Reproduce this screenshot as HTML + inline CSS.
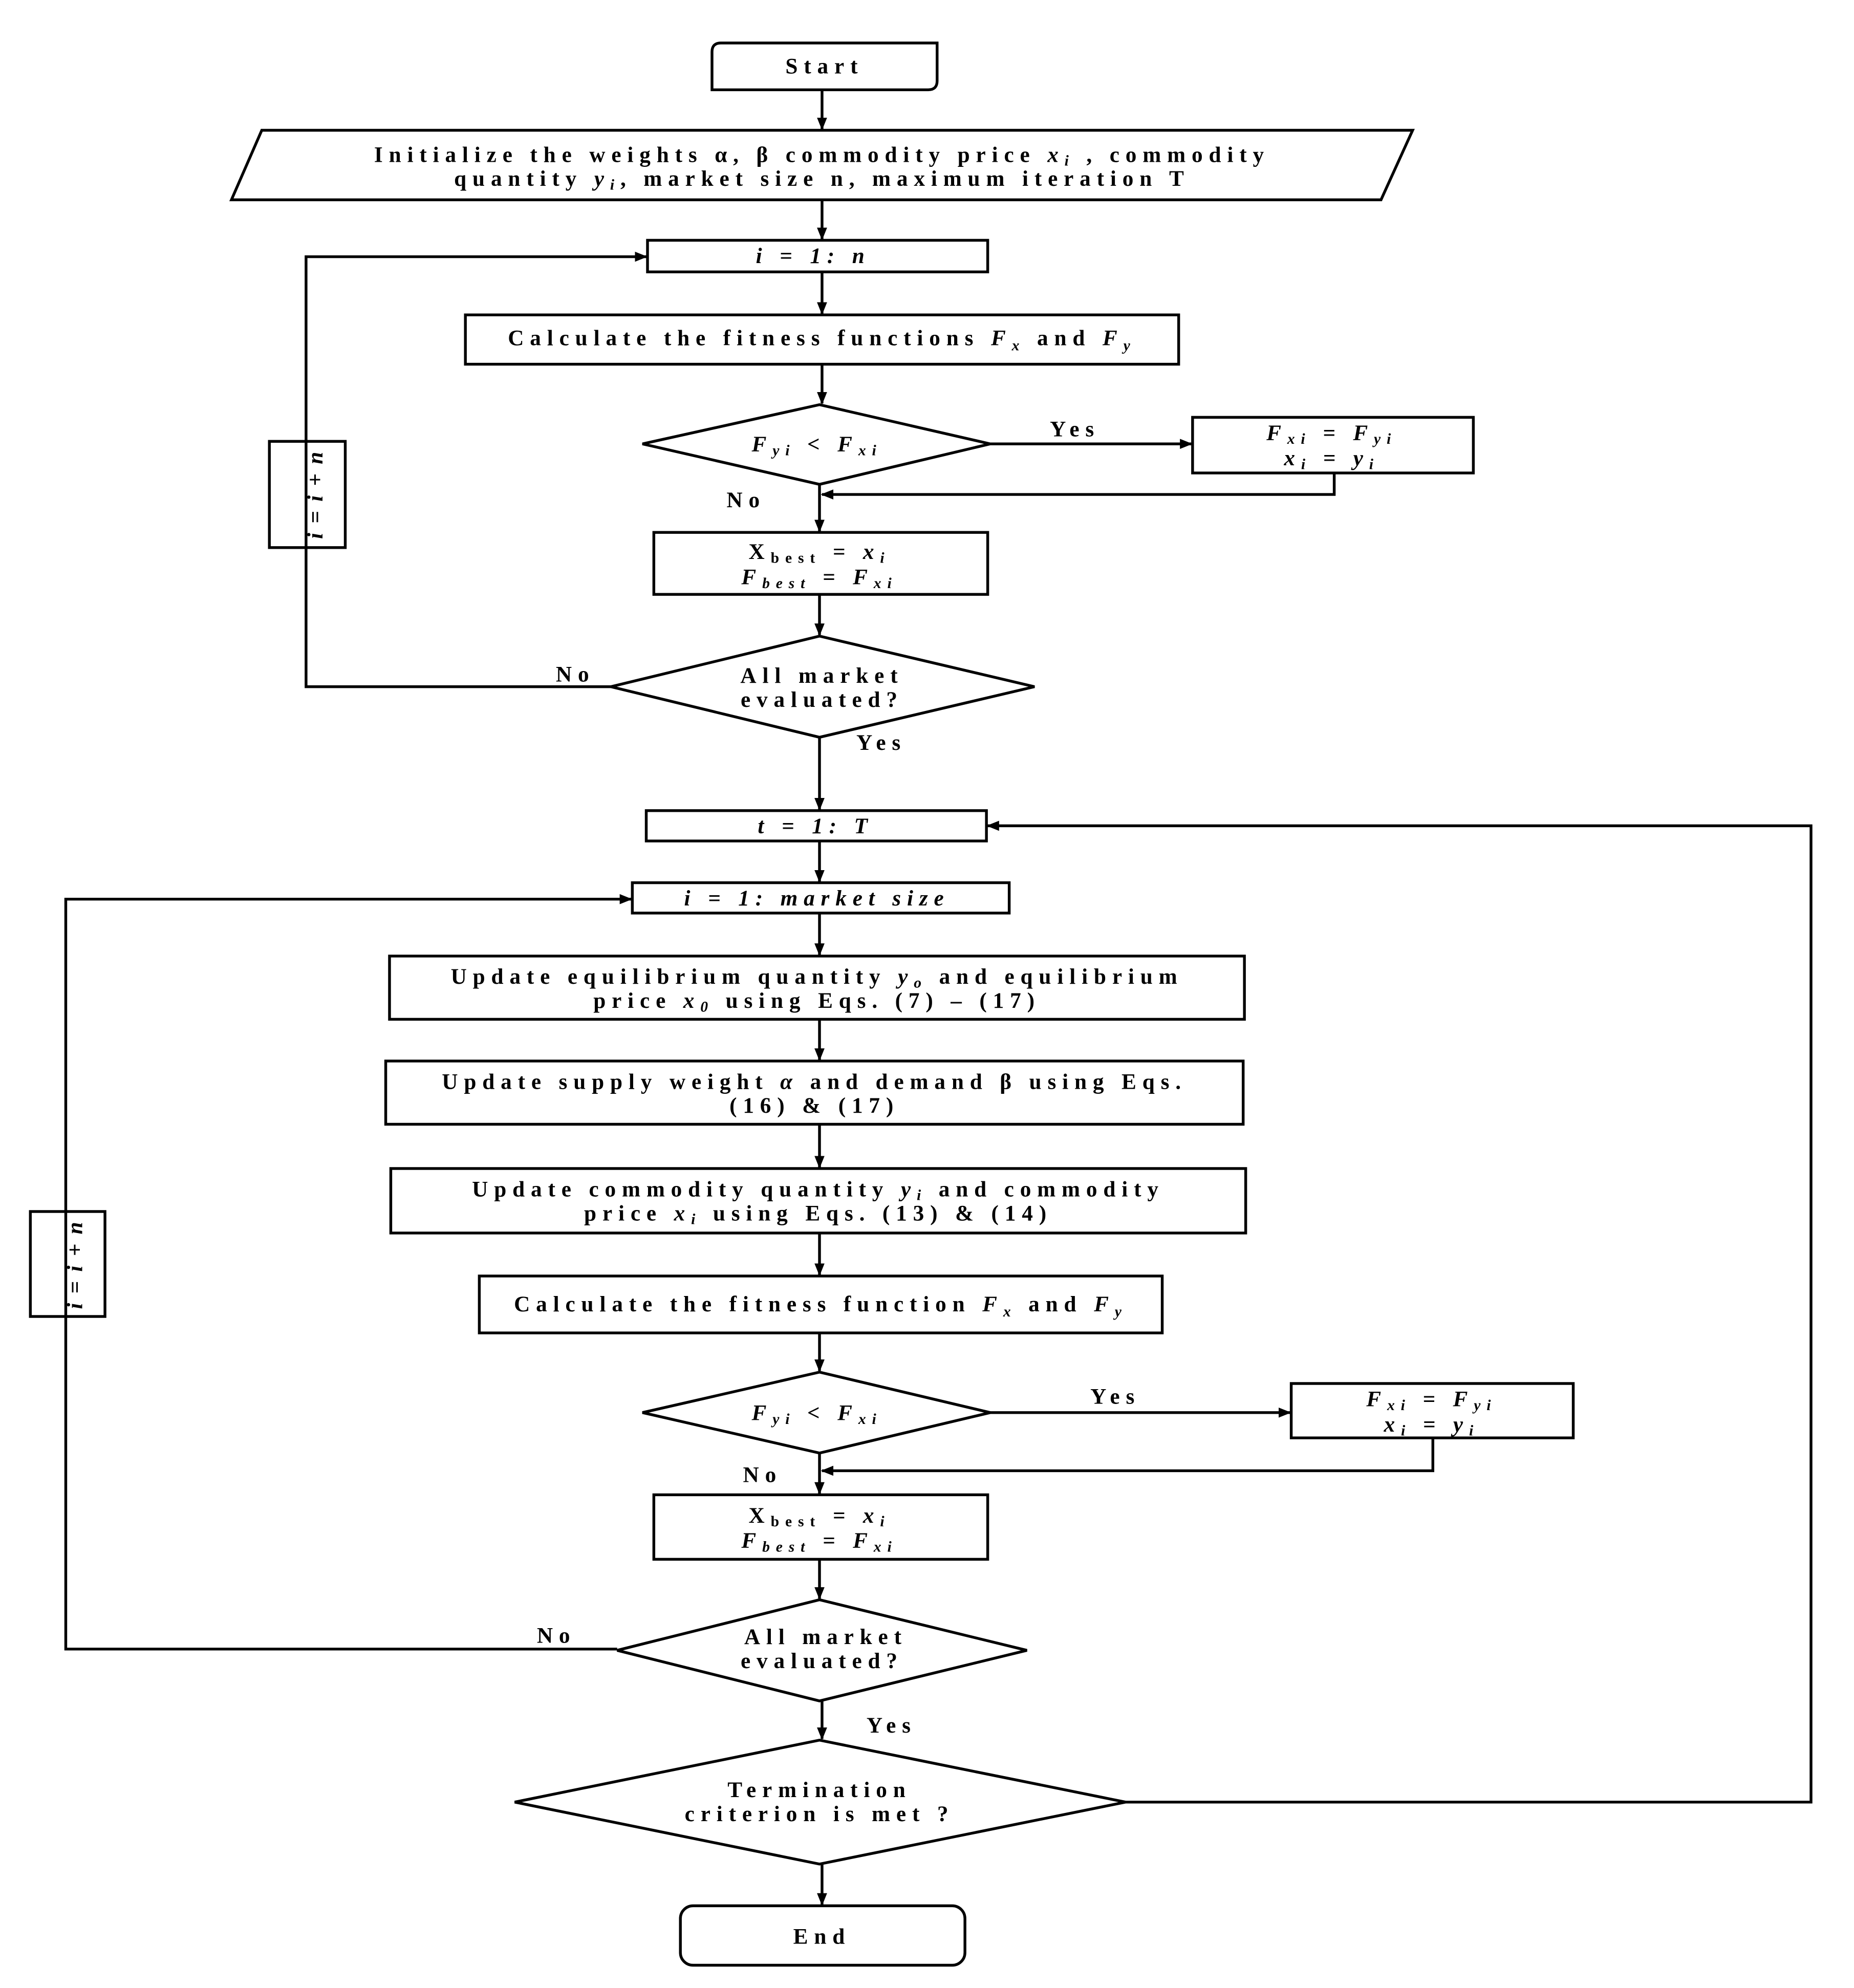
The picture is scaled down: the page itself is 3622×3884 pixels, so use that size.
<!DOCTYPE html>
<html><head><meta charset="utf-8"><style>
html,body{margin:0;padding:0;background:#fff}
svg{display:block}
text{font-family:"Liberation Serif",serif;font-weight:bold;font-size:17.5px;letter-spacing:4.8px;fill:#000}
.i{font-style:italic}
</style></head><body>
<svg width="3622" height="3884" viewBox="0 0 1466 1572" preserveAspectRatio="none" xmlns="http://www.w3.org/2000/svg">
<defs><marker id="a" markerWidth="10" markerHeight="8" refX="9" refY="4" orient="auto" markerUnits="userSpaceOnUse"><path d="M0,0 L10,4 L0,8z" fill="#000"/></marker></defs>
<g fill="none" stroke="#000" stroke-width="2.2">
<path d="M570,34 H741 V64 Q741,71 734,71 H563 V41 Q563,34 570,34z"/>
<polygon points="207,103 1117,103 1092,158 183,158"/>
<rect x="512" y="190" width="269" height="25"/>
<rect x="368" y="249" width="564" height="39"/>
<polygon points="508,351 648,320 783,351 648,383"/>
<rect x="943" y="330" width="222" height="44"/>
<rect x="517" y="421" width="264" height="49"/>
<polygon points="483,543 648,503 818,543 648,583"/>
<rect x="213" y="349" width="60" height="84"/>
<rect x="511" y="641" width="269" height="24"/>
<rect x="500" y="698" width="298" height="24"/>
<rect x="308" y="756" width="676" height="50"/>
<rect x="305" y="839" width="678" height="50"/>
<rect x="309" y="924" width="676" height="51"/>
<rect x="379" y="1009" width="540" height="45"/>
<polygon points="508,1117 648,1085 783,1117 648,1149"/>
<rect x="1021" y="1094" width="223" height="43"/>
<rect x="517" y="1182" width="264" height="51"/>
<polygon points="488,1305 648,1265 812,1305 648,1345"/>
<rect x="24" y="958" width="59" height="83"/>
<polygon points="407,1425 648,1376 890,1425 648,1474"/>
<rect x="538" y="1507" width="225" height="47" rx="10"/>
</g>
<g fill="none" stroke="#000" stroke-width="2.2" marker-end="url(#a)">
<path d="M650,71 V102"/><path d="M650,158 V189"/><path d="M650,215 V248"/><path d="M650,288 V319"/>
<path d="M783,351 H942"/><path d="M1055,374 V391 H650"/><path d="M648,383 V420"/><path d="M648,470 V502"/>
<path d="M483,543 H242 V203 H511"/><path d="M648,583 V640"/><path d="M648,665 V697"/><path d="M648,722 V755"/>
<path d="M648,806 V838"/><path d="M648,889 V923"/><path d="M648,975 V1008"/><path d="M648,1054 V1084"/>
<path d="M783,1117 H1020"/><path d="M1133,1137 V1163 H650"/><path d="M648,1149 V1181"/><path d="M648,1233 V1264"/>
<path d="M488,1304 H52 V711 H499"/><path d="M650,1345 V1375"/><path d="M890,1425 H1432 V653 H781"/><path d="M650,1474 V1506"/>
</g>
<g text-anchor="middle">
<text x="652" y="58">Start</text>
<text x="650" y="128">Initialize the weights α, β commodity price <tspan class="i">x<tspan font-size="12" dy="3">i</tspan></tspan><tspan dy="-3"> , commodity</tspan></text>
<text x="650" y="147">quantity <tspan class="i">y<tspan font-size="12" dy="3">i</tspan></tspan><tspan dy="-3">, market size n, maximum iteration T</tspan></text>
<text x="643" y="208" class="i">i = 1: n</text>
<text x="650" y="273">Calculate the fitness functions <tspan class="i">F<tspan font-size="12" dy="4">x</tspan></tspan><tspan dy="-4">  and </tspan><tspan class="i">F<tspan font-size="12" dy="4">y</tspan></tspan></text>
<text x="646" y="357" class="i">F<tspan font-size="12" dy="3">yi</tspan><tspan dy="-3"> &lt; F</tspan><tspan font-size="12" dy="3">xi</tspan></text>
<text x="850" y="345">Yes</text>
<text x="1053" y="348" class="i">F<tspan font-size="12" dy="3">xi</tspan><tspan dy="-3"> = F</tspan><tspan font-size="12" dy="3">yi</tspan></text>
<text x="1053" y="368" class="i">x<tspan font-size="12" dy="3">i</tspan><tspan dy="-3"> = y</tspan><tspan font-size="12" dy="3">i</tspan></text>
<text x="590" y="401">No</text>
<text x="648" y="442">X<tspan font-size="12" dy="3">best</tspan><tspan dy="-3" class="i"> = x</tspan><tspan font-size="12" dy="3" class="i">i</tspan></text>
<text x="648" y="462" class="i">F<tspan font-size="12" dy="3">best</tspan><tspan dy="-3"> = F</tspan><tspan font-size="12" dy="3">xi</tspan></text>
<text x="650" y="540">All market</text>
<text x="650" y="559">evaluated?</text>
<text x="455" y="539">No</text>
<text x="697" y="593">Yes</text>
<text x="645" y="659" class="i">t = 1: T</text>
<text x="646" y="716" class="i">i = 1: market size</text>
<text x="646" y="778">Update equilibrium quantity <tspan class="i">y<tspan font-size="12" dy="3">o</tspan></tspan><tspan dy="-3"> and equilibrium</tspan></text>
<text x="646" y="797">price <tspan class="i">x<tspan font-size="12" dy="3">0</tspan></tspan><tspan dy="-3"> using Eqs. (7) – (17)</tspan></text>
<text x="644" y="861">Update supply weight <tspan class="i">α</tspan> and demand β using Eqs.</text>
<text x="644" y="880">(16) &amp; (17)</text>
<text x="647" y="946">Update commodity  quantity <tspan class="i">y<tspan font-size="12" dy="3">i</tspan></tspan><tspan dy="-3"> and commodity</tspan></text>
<text x="647" y="965">price <tspan class="i">x<tspan font-size="12" dy="3">i</tspan></tspan><tspan dy="-3"> using Eqs. (13) &amp; (14)</tspan></text>
<text x="649" y="1037">Calculate the fitness function <tspan class="i">F<tspan font-size="12" dy="4">x</tspan></tspan><tspan dy="-4"> and </tspan><tspan class="i">F<tspan font-size="12" dy="4">y</tspan></tspan></text>
<text x="646" y="1123" class="i">F<tspan font-size="12" dy="3">yi</tspan><tspan dy="-3"> &lt; F</tspan><tspan font-size="12" dy="3">xi</tspan></text>
<text x="882" y="1110">Yes</text>
<text x="1132" y="1112" class="i">F<tspan font-size="12" dy="3">xi</tspan><tspan dy="-3"> = F</tspan><tspan font-size="12" dy="3">yi</tspan></text>
<text x="1132" y="1132" class="i">x<tspan font-size="12" dy="3">i</tspan><tspan dy="-3"> = y</tspan><tspan font-size="12" dy="3">i</tspan></text>
<text x="603" y="1172">No</text>
<text x="648" y="1204">X<tspan font-size="12" dy="3">best</tspan><tspan dy="-3" class="i"> = x</tspan><tspan font-size="12" dy="3" class="i">i</tspan></text>
<text x="648" y="1224" class="i">F<tspan font-size="12" dy="3">best</tspan><tspan dy="-3"> = F</tspan><tspan font-size="12" dy="3">xi</tspan></text>
<text x="653" y="1300">All market</text>
<text x="650" y="1319">evaluated?</text>
<text x="440" y="1299">No</text>
<text x="705" y="1370">Yes</text>
<text x="648" y="1421">Termination</text>
<text x="648" y="1440">criterion is met ?</text>
<text x="650" y="1537">End</text>
<text class="i" transform="translate(249,391) rotate(-90)" dy="6" style="letter-spacing:1.5px">i = i + n</text>
<text class="i" transform="translate(59,1000) rotate(-90)" dy="6" style="letter-spacing:1.5px">i = i + n</text>
</g>
</svg>
</body></html>
